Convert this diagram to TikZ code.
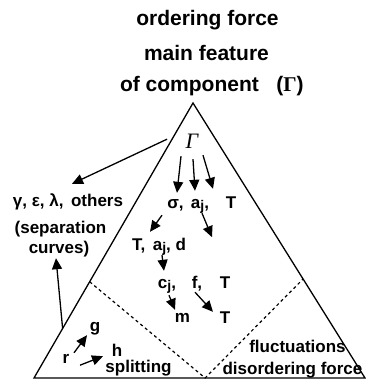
\documentclass[tikz,border=0pt]{standalone}
\usepackage{fontspec}
\setmainfont{Liberation Sans}
\newfontfamily\serifgr{Liberation Serif}
\usetikzlibrary{arrows.meta,calc}

\newcommand{\idx}[2]{#1\raisebox{-.3ex}{\fontsize{14}{14}\selectfont #2}}

\begin{document}
\begin{tikzpicture}[x=1pt, y=-1pt,
    lbl/.style={inner sep=0pt, text height=10pt, text depth=2pt, anchor=base, font=\fontsize{17}{20}\selectfont\bfseries},
    head/.style={lbl, font=\fontsize{21}{25}\selectfont\bfseries},
    arr/.style={-{Triangle[length=11pt,width=10pt]}, line width=1.3pt},
    side/.style={line width=1.3pt},
    split/.style={line width=1.2pt, dash pattern=on 3pt off 3pt},
]
\useasboundingbox (0,0) rectangle (366,381);

% heading
\node[head] (order) at (207.5,25) {ordering force};
\node[head] (feat)  at (206.5,60) {main feature};
\node[head] (comp)  at (189.5,91) {of component};
\node[head] (gamhd) at (290,91) {({\serifgr Γ})};

% the triangle
\coordinate (apex) at (193,103);
\coordinate (bl) at (34,378);
\coordinate (br) at (365,378);
\draw[side] (apex) -- (bl) -- (br) -- cycle;
\draw[split] ($(bl)!0.35!(apex)$) -- ($(bl)!0.517!(br)$) -- ($(br)!0.36!(apex)$);

% inside
\node[lbl, text height=14pt, text depth=0pt, font=\fontsize{22}{24}\selectfont\serifgr\itshape] (gam) at (192,148) {Γ};
\node[lbl] (sig) at (175.5,208) {σ,};
\node[lbl] (aj1) at (200,208) {\idx{a}{j},};
\node[lbl] (t1)  at (231,208) {T};
\node[lbl] (row2) at (159,250) {T,\, \idx{a}{j}, d};
\node[lbl] (cj) at (167,288) {\idx{c}{j},};
\node[lbl] (f)  at (197,288) {f,};
\node[lbl] (t3) at (225,288) {T};
\node[lbl] (m)  at (182.5,322) {m};
\node[lbl] (t4) at (225,323) {T};

% left side
\node[lbl] (lgA) at (68,206) {γ, ε, λ,\, others};
\node[lbl] (lgB) at (60.5,233) {(separation};
\node[lbl] (lgC) at (59,253) {curves)};

% corners
\node[lbl] (g) at (95,331) {g};
\node[lbl] (r) at (66,363) {r};
\node[lbl] (h) at (117,356) {h};
\node[lbl] (splt) at (138.5,372) {splitting};
\node[lbl] (fluct) at (297.5,352) {fluctuations};
\node[lbl] (disord) at (292.5,374) {disordering force};

\draw[arr] ($(gam.south)+(-25,-9)$) -- ($(lgA.north)+(4,-12)$);
\draw[arr] ($(gam.south)+(-11,8)$) -- ($(sig.north)+(1.5,-5)$);
\draw[arr] ($(gam.south)+(1,11)$) -- ($(aj1.north)+(-5,-7)$);
\draw[arr] ($(gam.south)+(11,7)$) -- ($(t1.north)+(-18,-9)$);
\draw[arr] ($(sig.south)+(-13.5,5)$) -- ($(row2.north)+(-9,-8)$);
\draw[arr] ($(aj1.south)+(2,3)$) -- ($(aj1.south)+(12,27)$);
\draw[arr] ($(row2.south)+(3,3)$) -- ($(cj.north)+(-3,-7)$);
\draw[arr] ($(cj.south)+(2,5)$) -- ($(m.north)+(-7.5,-2)$);
\draw[arr] ($(f.south)+(-2,2)$) -- ($(t4.north)+(-12,-1)$);
\draw[arr] ($(bl)!0.18!(apex)$) -- ($(lgC.south)+(-3,3)$);
\draw[arr] ($(r.north)+(8,0)$) -- ($(g.south)+(-8,2)$);
\draw[arr] ($(r.south)+(14,0)$) -- ($(h.south)+(-14,-2)$);
\end{tikzpicture}
\end{document}
